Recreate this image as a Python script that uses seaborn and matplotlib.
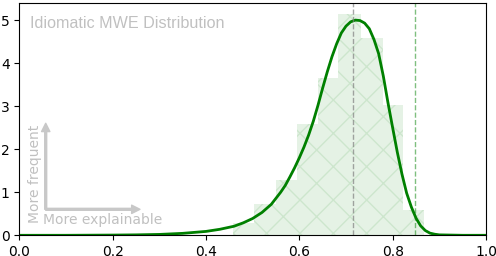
import numpy as np
import matplotlib
matplotlib.use("Agg")
import matplotlib.pyplot as plt
import seaborn as sns

# histogram bins (density)
bin_edges = [0.4586, 0.5036, 0.5494, 0.5944, 0.6394, 0.6835, 0.7315, 0.7787, 0.8228, 0.8678]
bin_heights = [0.29, 0.73, 1.29, 2.59, 3.66, 5.15, 4.59, 3.03, 0.59]

# density curve
kde_x = [0.0, 0.1, 0.2, 0.25, 0.3, 0.35, 0.4, 0.43, 0.46, 0.48, 0.5, 0.52, 0.54, 0.56,
         0.57, 0.58, 0.59, 0.6, 0.61, 0.62, 0.63, 0.64, 0.65, 0.66, 0.67, 0.68, 0.69,
         0.7, 0.71, 0.72, 0.73, 0.74, 0.75, 0.76, 0.77, 0.78, 0.79, 0.8, 0.81, 0.82,
         0.83, 0.84, 0.85, 0.86, 0.87, 0.88, 0.89, 0.9, 0.95, 1.0]
kde_y = [0.0, 0.0, 0.005, 0.01, 0.02, 0.045, 0.09, 0.14, 0.21, 0.29, 0.39, 0.53, 0.72, 1.0,
         1.16, 1.36, 1.57, 1.80, 2.05, 2.33, 2.65, 3.02, 3.42, 3.80, 4.15, 4.45, 4.70,
         4.86, 4.96, 5.0, 4.99, 4.93, 4.80, 4.55, 4.22, 3.70, 3.08, 2.50, 1.93, 1.42,
         0.98, 0.66, 0.40, 0.22, 0.11, 0.05, 0.025, 0.01, 0.0, 0.0]

mean_line = 0.716
upper_line = 0.848

fig = plt.figure(figsize=(4.96, 2.56), dpi=100)
ax = fig.add_axes([0.0389, 0.0809, 0.9409, 0.9061])

centers = [(a + b) / 2 for a, b in zip(bin_edges[:-1], bin_edges[1:])]
sns.histplot(x=centers, weights=bin_heights, bins=bin_edges, element="step", fill=True,
             color="green", alpha=0.1, linewidth=0, hatch="x", ax=ax)
# make the hatch a pale green like the fill
poly = ax.collections[0]
poly.set_alpha(None)
poly.set_facecolor((0, 0.5, 0, 0.1))
poly.set_edgecolor((0, 0.5, 0, 0.1))
poly.set_linewidth(0)

sns.lineplot(x=kde_x, y=kde_y, color="green", lw=2, ax=ax)

ax.axvline(mean_line, color="gray", ls="--", lw=1, alpha=0.7)
ax.axvline(upper_line, color="green", ls="--", lw=1, alpha=0.5)

ax.set_xlim(0, 1)
ax.set_ylim(0, 5.39)
ax.set_xlabel("")
ax.set_ylabel("")
ax.set_xticks([0, 0.2, 0.4, 0.6, 0.8, 1.0])
ax.set_yticks([0, 1, 2, 3, 4, 5])
ax.tick_params(labelsize=10)

ax.text(0.023, 0.945, "Idiomatic MWE Distribution", transform=ax.transAxes,
        fontsize=11.6, color="silver", ha="left", va="top", family="Liberation Sans")

arrow_kw = dict(facecolor="#c8c8c8", edgecolor="#c8c8c8", width=1.4, headwidth=6, headlength=6)
ax.annotate("", xy=(0.0566, 0.483), xytext=(0.0566, 0.112), xycoords="axes fraction",
            arrowprops=arrow_kw)
ax.annotate("", xy=(0.2586, 0.112), xytext=(0.0566, 0.112), xycoords="axes fraction",
            arrowprops=arrow_kw)
ax.text(0.0336, 0.264, "More frequent", transform=ax.transAxes, rotation=90,
        fontsize=10, color="silver", ha="center", va="center")
ax.text(0.0514, 0.066, "More explainable", transform=ax.transAxes,
        fontsize=10, color="silver", ha="left", va="center")

fig.savefig("out.png", dpi=100)
